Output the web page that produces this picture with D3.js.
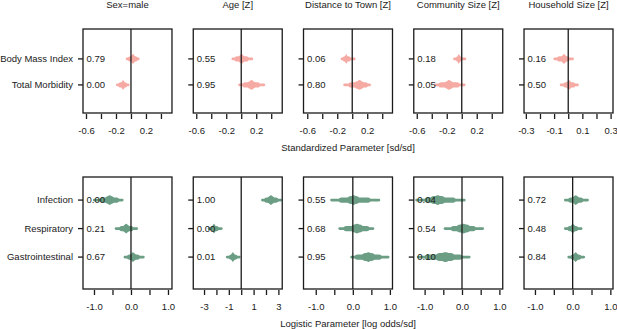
<!DOCTYPE html>
<html>
<head>
<meta charset="utf-8">
<script src="https://cdn.jsdelivr.net/npm/d3@7"></script>
<style>
  html, body { margin: 0; padding: 0; background: #fff; }
  svg { display: block; font-family: "Liberation Sans", Arial, sans-serif; }
</style>
</head>
<body>
<svg id="chart" width="617" height="329"></svg>
<script>
// ---------------- data ----------------
const predictors = ["Sex=male", "Age [Z]", "Distance to Town [Z]", "Community Size [Z]", "Household Size [Z]"];
const topOutcomes = ["Body Mass Index", "Total Morbidity"];
const bottomOutcomes = ["Infection", "Respiratory", "Gastrointestinal"];

// probability that the parameter is > 0 (printed in each panel)
const topProb = [[0.79, 0.00], [0.55, 0.95], [0.06, 0.80], [0.18, 0.05], [0.16, 0.50]];
const bottomProb = [[0.00, 0.21, 0.67], [1.00, 0.00, 0.01], [0.55, 0.68, 0.95], [0.04, 0.54, 0.10], [0.72, 0.48, 0.84]];

// posterior summaries: [lo95, lo80, lo50, median, hi50, hi80, hi95]
const topIntervals = [
  [[-0.07, -0.04, -0.01, 0.03, 0.06, 0.09, 0.115], [-0.20, -0.17, -0.13, -0.105, -0.08, -0.05, -0.02]],
  [[-0.13, -0.09, -0.04, 0.005, 0.05, 0.10, 0.16], [-0.04, 0.02, 0.08, 0.14, 0.19, 0.25, 0.32]],
  [[-0.155, -0.13, -0.10, -0.08, -0.06, -0.02, 0.045], [-0.12, -0.05, 0.03, 0.10, 0.16, 0.21, 0.25]],
  [[-0.115, -0.08, -0.06, -0.04, -0.02, 0.01, 0.06], [-0.37, -0.31, -0.23, -0.17, -0.11, -0.03, 0.05]],
  [[-0.105, -0.08, -0.05, -0.03, -0.01, 0.01, 0.04], [-0.06, -0.035, -0.015, 0.005, 0.025, 0.05, 0.075]]
];
const bottomIntervals = [
  [[-1.03, -0.85, -0.70, -0.58, -0.45, -0.32, -0.20], [-0.44, -0.32, -0.22, -0.13, -0.04, 0.07, 0.19], [-0.20, -0.11, -0.03, 0.05, 0.14, 0.24, 0.37]],
  [[1.6, 1.85, 2.1, 2.4, 2.7, 3.0, 3.3], [-2.7, -2.5, -2.35, -2.2, -2.05, -1.8, -1.5], [-1.24, -1.0, -0.85, -0.68, -0.5, -0.3, -0.05]],
  [[-0.61, -0.38, -0.15, 0.02, 0.18, 0.48, 0.74], [-0.39, -0.25, -0.05, 0.11, 0.28, 0.45, 0.58], [-0.07, 0.05, 0.24, 0.42, 0.60, 0.78, 0.99]],
  [[-1.25, -1.0, -0.85, -0.65, -0.45, -0.17, 0.10], [-0.49, -0.30, -0.15, 0.05, 0.22, 0.37, 0.59], [-1.21, -1.0, -0.70, -0.44, -0.20, 0.01, 0.23]],
  [[-0.23, -0.12, -0.02, 0.08, 0.18, 0.28, 0.43], [-0.23, -0.14, -0.06, 0.0, 0.07, 0.15, 0.26], [-0.14, -0.06, 0.01, 0.08, 0.15, 0.23, 0.33]]
];

// axis domains and ticks
const topDomains = [[-0.64, 0.547], [-0.64, 0.547], [-0.65, 0.537], [-0.64, 0.547], [-0.313, 0.317]];
const bottomDomains = [[-1.297, 1.108], [-3.87, 3.31], [-1.33, 1.07], [-1.29, 1.09], [-1.29, 1.07]];
const topTicks = [[-0.6, -0.4, -0.2, 0, 0.2, 0.4], [-0.6, -0.4, -0.2, 0, 0.2, 0.4], [-0.6, -0.4, -0.2, 0, 0.2, 0.4], [-0.6, -0.4, -0.2, 0, 0.2, 0.4], [-0.3, -0.2, -0.1, 0, 0.1, 0.2, 0.3]];
const topTickLabels = [["-0.6", "-0.2", "0.2"], ["-0.6", "-0.2", "0.2"], ["-0.6", "-0.2", "0.2"], ["-0.6", "-0.2", "0.2"], ["-0.3", "-0.1", "0.1", "0.3"]];
const bottomTicks = [[-1, -0.5, 0, 0.5, 1], [-3, -2, -1, 0, 1, 2, 3], [-1, -0.5, 0, 0.5, 1], [-1, -0.5, 0, 0.5, 1], [-1, -0.5, 0, 0.5, 1]];
const bottomTickLabels = [["-1.0", "0.0", "1.0"], ["-3", "-1", "1", "3"], ["-1.0", "0.0", "1.0"], ["-1.0", "0.0", "1.0"], ["-1.0", "0.0", "1.0"]];

const topAxisTitle = "Standardized Parameter [sd/sd]";
const bottomAxisTitle = "Logistic Parameter [log odds/sd]";

// ---------------- drawing ----------------
const svg = d3.select("#chart");
const pink = "#f6aaa4";
const green = "#6b9e84";
const ink = "#1a1a1a";
const fontSize = 9.5;

const xBand = d3.scaleBand().domain(predictors).range([83, 613]).paddingInner(0.193);

const rows = [
  { outcomes: topOutcomes, prob: topProb, intervals: topIntervals, domains: topDomains, ticks: topTicks, tickLabels: topTickLabels,
    y0: 29, y1: 113, yDomain: [-1.15, 2.08], color: pink, title: topAxisTitle, tickLabelY: 133.5, titleY: 151 },
  { outcomes: bottomOutcomes, prob: bottomProb, intervals: bottomIntervals, domains: bottomDomains, ticks: bottomTicks, tickLabels: bottomTickLabels,
    y0: 177, y1: 289, yDomain: [-0.81, 3.12], color: green, title: bottomAxisTitle, tickLabelY: 310, titleY: 327 }
];

// panel titles
svg.selectAll("text.ptitle").data(predictors).join("text")
  .attr("class", "ptitle")
  .attr("x", d => xBand(d) + xBand.bandwidth() / 2)
  .attr("y", 7.5)
  .attr("text-anchor", "middle")
  .attr("font-size", fontSize)
  .attr("fill", ink)
  .text(d => d);

let clipId = 0;
rows.forEach((row) => {
  const y = d3.scaleLinear().domain(row.yDomain).range([row.y0, row.y1]);
  const idx = row.outcomes.map((_, i) => i);

  predictors.forEach((pred, p) => {
    const left = xBand(pred), w = xBand.bandwidth();
    const x = d3.scaleLinear().domain(row.domains[p]).range([left, left + w]);
    const g = svg.append("g");

    const cid = "clip" + (clipId++);
    svg.append("clipPath").attr("id", cid)
      .append("rect").attr("x", left).attr("y", row.y0).attr("width", w).attr("height", row.y1 - row.y0);

    const marks = g.append("g").attr("clip-path", `url(#${cid})`);

    // eye-shaped posterior marks from nested intervals
    const levels = [
      { lo: 0, hi: 6, h: 2.6 },
      { lo: 1, hi: 5, h: 5.2 },
      { lo: 2, hi: 4, h: 8 }
    ];
    idx.forEach(i => {
      const iv = row.intervals[p][i];
      levels.forEach(lv => {
        const xa = x(iv[lv.lo]), xb = x(iv[lv.hi]);
        marks.append("rect")
          .attr("x", xa).attr("width", Math.max(0, xb - xa))
          .attr("y", y(i) - lv.h / 2).attr("height", lv.h)
          .attr("rx", lv.h / 2).attr("ry", lv.h / 2)
          .attr("fill", row.color);
      });
      // peak around the median
      const pa = x((iv[2] + iv[3]) / 2), pb = x((iv[3] + iv[4]) / 2);
      marks.append("rect")
        .attr("x", pa).attr("width", Math.max(0, pb - pa))
        .attr("y", y(i) - 4.8).attr("height", 9.6)
        .attr("rx", 4).attr("ry", 4.8)
        .attr("fill", row.color);
    });

    // zero line
    g.append("line")
      .attr("x1", x(0)).attr("x2", x(0))
      .attr("y1", row.y0).attr("y2", row.y1)
      .attr("stroke", ink).attr("stroke-width", 1.3);

    // probability labels
    g.selectAll("text.prob").data(idx).join("text")
      .attr("class", "prob")
      .attr("x", left + 3.5)
      .attr("y", i => y(i) + 3.4)
      .attr("font-size", fontSize)
      .attr("fill", ink)
      .text(i => row.prob[p][i].toFixed(2));

    // panel box
    g.append("rect")
      .attr("x", left).attr("y", row.y0)
      .attr("width", w).attr("height", row.y1 - row.y0)
      .attr("fill", "none").attr("stroke", ink).attr("stroke-width", 1.3);

    // left ticks
    g.selectAll("line.ytick").data(idx).join("line")
      .attr("class", "ytick")
      .attr("x1", left - 5).attr("x2", left)
      .attr("y1", i => y(i)).attr("y2", i => y(i))
      .attr("stroke", ink).attr("stroke-width", 1.3);

    if (p === 0) {
      g.selectAll("text.ylab").data(row.outcomes).join("text")
        .attr("class", "ylab")
        .attr("x", left - 10)
        .attr("y", (d, i) => y(i) + 3.4)
        .attr("text-anchor", "end")
        .attr("font-size", fontSize)
        .attr("fill", ink)
        .text(d => d);
    }

    // bottom axis (labels taken from the tick label list; unlabelled ticks stay blank)
    const labels = row.tickLabels[p];
    const axis = d3.axisBottom(x)
      .tickValues(row.ticks[p])
      .tickSize(5)
      .tickFormat(v => {
        const lab = labels.find(s => Math.abs(+s - v) < 1e-9);
        return lab === undefined ? "" : lab;
      });
    const ag = g.append("g").attr("transform", `translate(0,${row.y1 + 1})`).call(axis);
    ag.select(".domain").remove();
    ag.selectAll(".tick line").attr("stroke", ink).attr("stroke-width", 1.3);
    ag.selectAll(".tick text")
      .attr("font-size", fontSize)
      .attr("font-family", "Liberation Sans, Arial, sans-serif")
      .attr("fill", ink)
      .attr("dy", null)
      .attr("y", row.tickLabelY - row.y1 - 1);
  });

  // axis title, centered under the middle panel
  svg.append("text")
    .attr("x", xBand(predictors[2]) + xBand.bandwidth() / 2)
    .attr("y", row.titleY)
    .attr("text-anchor", "middle")
    .attr("font-size", fontSize)
    .attr("fill", ink)
    .text(row.title);
});
</script>
</body>
</html>
